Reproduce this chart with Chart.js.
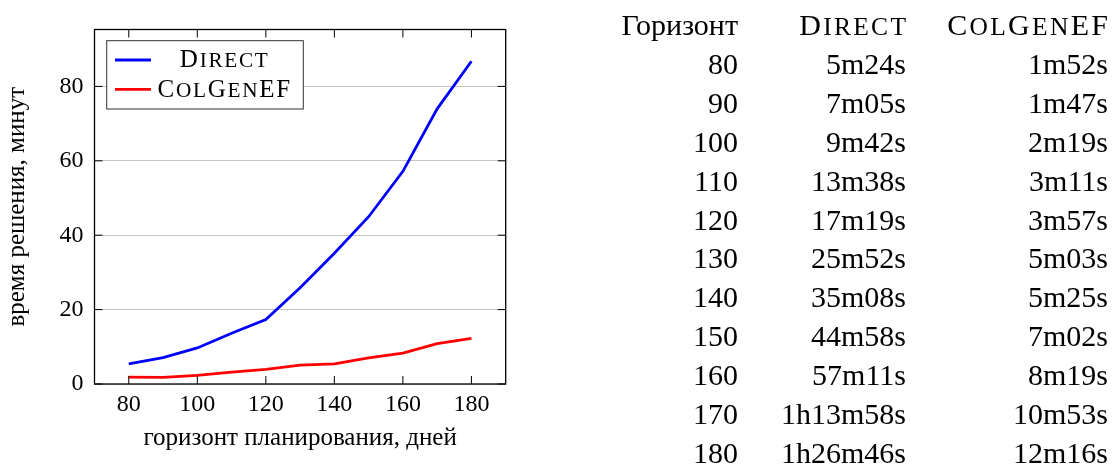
<!DOCTYPE html>
<html><head><meta charset="utf-8">
<script src="https://cdn.jsdelivr.net/npm/chart.js@4/dist/chart.umd.min.js"></script>
<style>
html,body{margin:0;padding:0;background:#fff;width:1112px;height:465px;overflow:hidden}
#wrap{position:absolute;left:0;top:0;width:560px;height:465px}
#tbl{position:absolute;left:0;top:0;width:1112px;height:465px;font-family:'Liberation Serif',serif;font-size:30px;color:#000}
#leg{position:absolute;left:0;top:0;font-family:'Liberation Serif',serif;font-size:25px;color:#000}
.cell{position:absolute;white-space:nowrap;text-align:right;line-height:1}
.lcell{position:absolute;white-space:nowrap;text-align:center;line-height:1;width:200px;letter-spacing:1.7px}
#tbl .sc{letter-spacing:2.3px;margin-right:-2.3px}
.s{font-size:0.85em;text-transform:uppercase}
</style></head><body>
<div id="wrap"><canvas id="c" width="560" height="465"></canvas></div>
<div id="leg"></div>
<div id="tbl"></div>
<script>
// ---- data ----
const horizons = [80, 90, 100, 110, 120, 130, 140, 150, 160, 170, 180];
const directMinutes = [5.40, 7.08, 9.70, 13.63, 17.32, 25.87, 35.13, 44.97, 57.18, 73.97, 86.77];
const colgenMinutes = [1.87, 1.78, 2.32, 3.18, 3.95, 5.05, 5.42, 7.03, 8.32, 10.88, 12.27];
const directTimes = ['5m24s','7m05s','9m42s','13m38s','17m19s','25m52s','35m08s','44m58s','57m11s','1h13m58s','1h26m46s'];
const colgenTimes = ['1m52s','1m47s','2m19s','3m11s','3m57s','5m03s','5m25s','7m02s','8m19s','10m53s','12m16s'];
const seriesNames = ['Direct', 'ColGenEF'];
const tableHeader = ['Горизонт', 'Direct', 'ColGenEF'];
const xTicks = [80, 100, 120, 140, 160, 180];
const yTicks = [0, 20, 40, 60, 80];
const xTitle = 'горизонт планирования, дней';
const yTitle = 'время решения, минут';

const FONT = "'Liberation Serif', serif";

// small caps: capitals full size, lowercase runs as reduced capitals
function fillSmallCaps(el, text) {
  text.split(/([a-z]+)/).forEach(part => {
    if (!part) return;
    if (/^[a-z]+$/.test(part)) {
      const sp = document.createElement('span');
      sp.className = 's';
      sp.textContent = part;
      el.appendChild(sp);
    } else {
      el.appendChild(document.createTextNode(part));
    }
  });
}

// ---- table ----
const tbl = document.getElementById('tbl');
const colRight = [374, 206, 4];
const headerBase = 35.5, rowBase0 = 74, rowStep = 38.9, asc = 25.1;
function cell(text, col, base, sc) {
  const d = document.createElement('div');
  d.className = 'cell' + (sc ? ' sc' : '');
  if (sc) fillSmallCaps(d, text); else d.textContent = text;
  d.style.right = colRight[col] + 'px';
  d.style.top = (base - asc) + 'px';
  tbl.appendChild(d);
}
tableHeader.forEach((t, i) => cell(t, i, headerBase, i > 0));
horizons.forEach((h, i) => {
  const b = rowBase0 + rowStep * i;
  cell(String(h), 0, b, false);
  cell(directTimes[i], 1, b, false);
  cell(colgenTimes[i], 2, b, false);
});

// ---- chart ----
const colors = ['#0000ff', '#ff0000'];
const LEG = {dx: 12.2, dy: 11.2, w: 196.6, h: 68.3, rows: [19.3, 48.6], x1: 8.3, x2: 44.3, textX: 118, base: 7.2};
const framePlugin = {
  id: 'frame',
  afterDatasetsDraw(chart) {
    const {ctx, chartArea: a, scales: {x, y}} = chart;
    ctx.save();
    ctx.strokeStyle = '#000';
    ctx.lineWidth = 1;
    const line = (x1, y1, x2, y2) => { ctx.beginPath(); ctx.moveTo(x1, y1); ctx.lineTo(x2, y2); ctx.stroke(); };
    const tl = 8;
    xTicks.forEach(v => { const px = x.getPixelForValue(v); line(px, a.bottom, px, a.bottom - tl); line(px, a.top, px, a.top + tl); });
    yTicks.forEach(v => { const py = y.getPixelForValue(v); line(a.left, py, a.left + tl, py); line(a.right, py, a.right - tl, py); });
    ctx.lineWidth = 1.3;
    ctx.strokeRect(a.left, a.top, a.right - a.left, a.bottom - a.top);
    // legend box and swatches
    const bx = a.left + LEG.dx, by = a.top + LEG.dy;
    ctx.fillStyle = '#fff';
    ctx.fillRect(bx, by, LEG.w, LEG.h);
    ctx.strokeStyle = '#333';
    ctx.lineWidth = 1;
    ctx.strokeRect(bx, by, LEG.w, LEG.h);
    seriesNames.forEach((n, i) => {
      ctx.strokeStyle = colors[i];
      ctx.lineWidth = 2.8;
      line(bx + LEG.x1, by + LEG.rows[i], bx + LEG.x2, by + LEG.rows[i]);
    });
    ctx.restore();
  }
};

const tickFont = {family: FONT, size: 24};
const titleFont = {family: FONT, size: 25};
const chart = new Chart(document.getElementById('c'), {
  type: 'line',
  data: {
    datasets: [
      {label: seriesNames[0], data: horizons.map((h, i) => ({x: h, y: directMinutes[i]})), borderColor: colors[0], borderWidth: 2.8, pointRadius: 0, tension: 0, fill: false},
      {label: seriesNames[1], data: horizons.map((h, i) => ({x: h, y: colgenMinutes[i]})), borderColor: colors[1], borderWidth: 2.8, pointRadius: 0, tension: 0, fill: false}
    ]
  },
  options: {
    responsive: false,
    animation: false,
    layout: {padding: {left: 0, top: 29.5, right: 54.3, bottom: 0}},
    plugins: {legend: {display: false}, tooltip: {enabled: false}},
    scales: {
      x: {
        type: 'linear', min: 70, max: 190,
        afterBuildTicks: s => { s.ticks = xTicks.map(v => ({value: v})); },
        afterFit: s => { s.height = 81; },
        grid: {display: false, drawTicks: false},
        border: {display: false},
        ticks: {font: tickFont, color: '#000', padding: 6, maxRotation: 0},
        title: {display: true, text: xTitle, font: titleFont, color: '#000', padding: {top: 0, bottom: 12}}
      },
      y: {
        type: 'linear', min: 0, max: 95.3,
        afterBuildTicks: s => { s.ticks = yTicks.map(v => ({value: v})); },
        afterFit: s => { s.width = 94.5; },
        grid: {color: '#c4c4c4', lineWidth: 1, drawTicks: false},
        border: {display: false},
        ticks: {font: tickFont, color: '#000', padding: 11},
        title: {display: true, text: yTitle, font: titleFont, color: '#000', padding: {top: 2, bottom: 0}}
      }
    }
  },
  plugins: [framePlugin]
});

// legend labels as text, placed from the chart's own layout
(function () {
  const a = chart.chartArea;
  const leg = document.getElementById('leg');
  const lasc = 20.9;
  seriesNames.forEach((n, i) => {
    const d = document.createElement('div');
    d.className = 'lcell';
    fillSmallCaps(d, n);
    const cx = a.left + LEG.dx + LEG.textX;
    const base = a.top + LEG.dy + LEG.rows[i] + LEG.base;
    d.style.left = (cx - 100) + 'px';
    d.style.top = (base - lasc) + 'px';
    leg.appendChild(d);
  });
})();
</script>
</body></html>
